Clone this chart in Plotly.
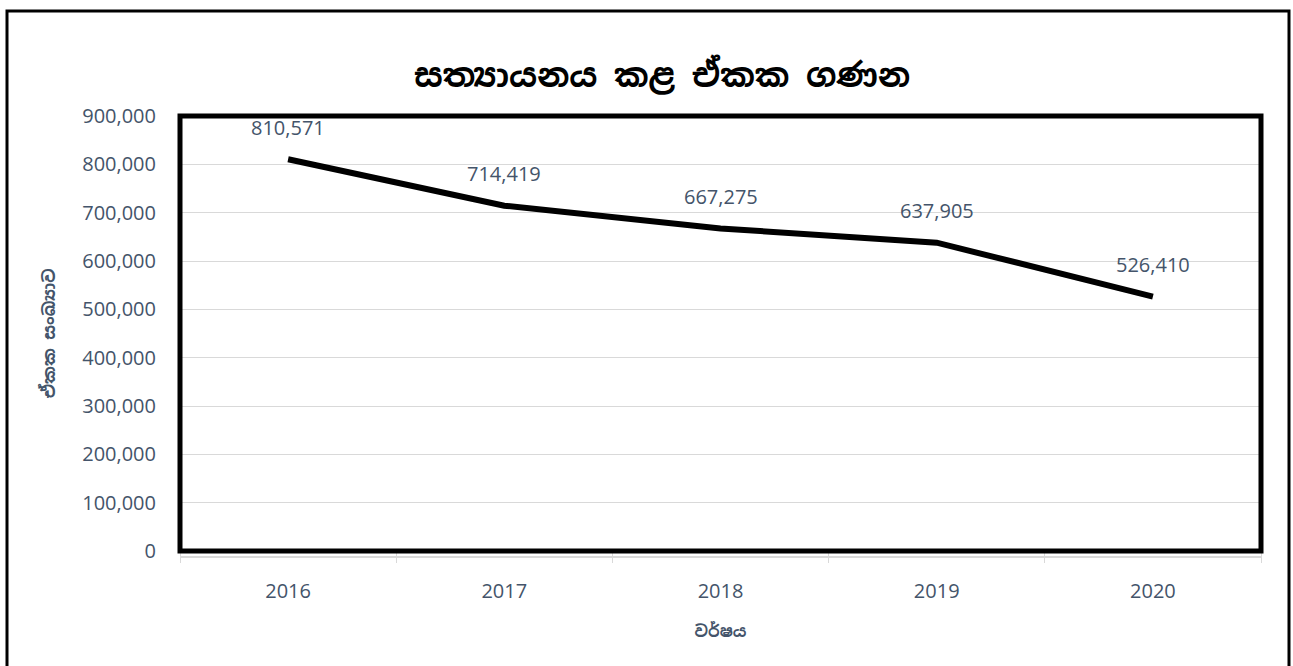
import plotly.graph_objects as go

years = [2016, 2017, 2018, 2019, 2020]
units = [810571, 714419, 667275, 637905, 526410]

title_text = "සත්‍යායනය කළ ඒකක ගණන"
x_title = "වර්ෂය"
y_title = "ඒකක සංඛ්‍යාව"

SIN = "Noto Sans Sinhala, Noto Serif Sinhala, Iskoola Pota, sans-serif"
TICK = "Open Sans, Noto Sans, sans-serif"
SLATE = "#44546A"
GRID = "#D9D9D9"

fig = go.Figure()
fig.add_trace(go.Scatter(
    x=years, y=units, mode="lines",
    line=dict(color="black", width=6),
    hoverinfo="skip",
))

for yr, val in zip(years, units):
    fig.add_annotation(
        x=yr, y=val, text=f"{val:,}", showarrow=False,
        yshift=32, font=dict(family=TICK, size=20, color=SLATE),
    )

fig.update_layout(
    width=1293, height=666,
    margin=dict(l=180, r=32, t=116, b=115),
    paper_bgcolor="white", plot_bgcolor="white",
    showlegend=False,
    title=dict(text=f"<b>{title_text}</b>", x=0.512, xanchor="center",
               y=0.887, yanchor="middle",
               font=dict(family=SIN, size=33, color="black")),
)

fig.update_xaxes(
    range=[years[0] - 0.5, years[-1] + 0.5], tickvals=years,
    ticks="outside", ticklen=22, tickcolor="rgba(0,0,0,0)",
    minor=dict(tick0=years[0] - 0.5, dtick=1, ticks="outside", ticklen=11,
               tickcolor=GRID, showgrid=False),
    showgrid=False, showline=False, zeroline=False,
    tickfont=dict(family=TICK, size=20, color=SLATE),
    title=dict(text=f"<b>{x_title}</b>", font=dict(family=SIN, size=16, color=SLATE),
               standoff=22),
)
fig.update_yaxes(
    range=[0, 900000], dtick=100000, tickformat=",",
    showgrid=True, gridcolor=GRID, gridwidth=1, zeroline=False,
    ticks="outside", ticklen=19, tickcolor="rgba(0,0,0,0)",
    tickfont=dict(family=TICK, size=20, color=SLATE),
    title=dict(text=f"<b>{y_title}</b>", font=dict(family=SIN, size=17, color=SLATE),
               standoff=22),
)

# gray category axis line just below the chart box
fig.add_shape(type="line", xref="paper", yref="paper", x0=0, x1=1,
              ysizemode="pixel", yanchor=0, y0=-6, y1=-6,
              line=dict(color=GRID, width=2))
# thick black box round the plot area
fig.add_shape(type="rect", xref="paper", yref="paper", x0=0, x1=1, y0=0, y1=1,
              line=dict(color="black", width=5))
# outer border of the chart
fig.add_shape(type="rect", xref="paper", yref="paper",
              x0=(7 - 180) / 1081, x1=(1289 - 180) / 1081,
              y0=(551 - 680) / 435, y1=(551 - 11) / 435,
              line=dict(color="black", width=3))

fig.write_html("out.html", config={"displayModeBar": False},
               post_script="document.body.style.margin='0';")
